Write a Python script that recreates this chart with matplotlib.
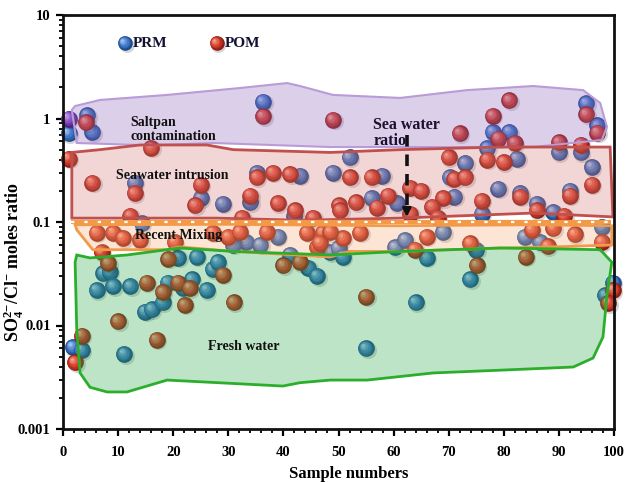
import matplotlib
matplotlib.use('Agg')
import matplotlib.pyplot as plt
import numpy as np
from matplotlib.transforms import offset_copy
from matplotlib.ticker import MultipleLocator, LogLocator, NullFormatter
from matplotlib.colors import to_rgb

plt.rcParams['font.family'] = ['Liberation Serif', 'DejaVu Serif']
plt.rcParams['font.weight'] = 'bold'
plt.rcParams['mathtext.fontset'] = 'custom'
plt.rcParams['mathtext.rm'] = 'Liberation Serif:bold'
plt.rcParams['mathtext.bf'] = 'Liberation Serif:bold'
plt.rcParams['mathtext.it'] = 'Liberation Serif:bold'

# ---------------- data ----------------
prm_x = [1.0, 4.4, 5.3, 36.3, 78, 81, 77, 95, 97, 90, 94,
         13, 25, 29, 35.2, 43, 49, 52, 57.9, 34, 42, 56, 60.6, 73, 82.4, 96,
         70.2, 79, 83, 92, 71, 76, 86, 89,
         14.3, 33.3, 39, 30.9, 35.8, 48.5, 50, 50.8, 60.3, 62.1, 66, 69, 75,
         83.8, 86.6, 97.8, 41.2, 20.9, 24.3,
         1.8, 3.4, 7.3, 8.5, 6.1, 9.1, 12.2, 11.1, 14.9, 16.1, 18.1, 19, 21.8,
         23.4, 26.1, 27.2, 28.1, 44.5, 46.1, 55, 64, 73.9, 99.8, 98.4]
prm_y = [0.72, 1.07, 0.74, 1.45, 0.74, 0.74, 0.52, 1.40, 0.86, 0.47, 0.47,
         0.24, 0.17, 0.15, 0.30, 0.28, 0.30, 0.42, 0.28, 0.155, 0.115, 0.17, 0.152, 0.37, 0.41, 0.34,
         0.27, 0.21, 0.19, 0.20, 0.175, 0.12, 0.15, 0.125,
         0.097, 0.064, 0.072, 0.060, 0.060, 0.051, 0.056, 0.046, 0.057, 0.067, 0.045, 0.080, 0.054,
         0.072, 0.064, 0.090, 0.048, 0.045, 0.046,
         0.0062, 0.0058, 0.032, 0.033, 0.022, 0.024, 0.024, 0.0053, 0.0136, 0.0143, 0.0167, 0.026, 0.023,
         0.028, 0.022, 0.035, 0.041, 0.036, 0.030, 0.0060, 0.0167, 0.028, 0.026, 0.0195]

pom_x = [4.2, 36.3, 49, 81, 78, 79, 82, 72, 95, 97, 90, 94,
         1.0, 16, 5.3, 13, 25, 24, 12.2, 35.2, 38.1, 41.2, 52.1, 56, 34, 39, 42.1, 50.1,
         53.2, 57, 59, 63, 65, 63, 32.5, 45.4, 70, 77, 80, 71, 73, 83, 92, 96, 69, 67,
         68, 76, 86, 91, 50.3,
         6.1, 9.1, 10.9, 14, 7, 20.3, 27.2, 30, 32.1, 37, 44.3, 47.2, 46.1, 46.6, 50.8,
         53.9, 63.9, 66, 73.9, 85.1, 88, 89, 92.9, 97.8, 48.5,
         2.2, 3.4, 8.2, 15.2, 10, 17, 18.1, 19.1, 20.9, 23, 22.1, 29, 31, 40, 43, 55,
         75.1, 84, 99.8, 99]
pom_y = [0.92, 1.05, 0.97, 1.5, 1.06, 0.64, 0.58, 0.72, 1.10, 0.73, 0.59, 0.56,
         0.41, 0.52, 0.24, 0.19, 0.23, 0.145, 0.115, 0.27, 0.30, 0.29, 0.27, 0.27, 0.18, 0.152, 0.13, 0.145,
         0.155, 0.138, 0.18, 0.215, 0.20, 0.12, 0.11, 0.11, 0.42, 0.40, 0.38, 0.26, 0.27, 0.175, 0.18, 0.23, 0.17, 0.14,
         0.11, 0.16, 0.13, 0.115, 0.13,
         0.079, 0.079, 0.070, 0.067, 0.051, 0.064, 0.079, 0.072, 0.080, 0.080, 0.079, 0.079, 0.057, 0.063, 0.070,
         0.079, 0.054, 0.072, 0.062, 0.084, 0.058, 0.087, 0.076, 0.064, 0.080,
         0.0044, 0.0080, 0.040, 0.026, 0.011, 0.0073, 0.021, 0.044, 0.026, 0.023, 0.0158, 0.031, 0.0167, 0.038, 0.041, 0.019,
         0.038, 0.046, 0.022, 0.0165]

mixed_x = [1.0]
mixed_y = [1.0]

# zone outlines (data coordinates)
salt_x = [2.2, 6.7, 18.9, 32.1, 40.7, 43, 49, 61.2, 73.3, 85.3, 94.4, 97.5, 98.7, 97.8, 85.3, 61.2, 48.5, 27.2, 15.8, 2.5, 1.6]
salt_y = [1.32, 1.51, 1.69, 1.97, 2.2, 2.06, 1.69, 1.58, 1.88, 2.06, 1.88, 1.41, 0.83, 0.62, 0.53, 0.53, 0.53, 0.58, 0.55, 0.58, 1.21]
sea_x = [1.6, 6.7, 14, 26.1, 30.9, 48.5, 61.2, 79.3, 99.3, 99.8, 85.3, 61.2, 43, 27.9, 1.6]
sea_y = [0.47, 0.50, 0.555, 0.555, 0.50, 0.47, 0.50, 0.53, 0.53, 0.112, 0.122, 0.109, 0.104, 0.109, 0.109]
mix_x = [2.2, 30, 60, 85, 99.6, 99.6, 91.5, 79.3, 61.2, 52.1, 48.5, 30.9, 21.2, 18.9, 5.4, 2.5]
mix_y = [0.094, 0.095, 0.092, 0.094, 0.092, 0.060, 0.058, 0.056, 0.052, 0.052, 0.046, 0.052, 0.0575, 0.054, 0.054, 0.084]
fresh_x = [2.5, 4.9, 11.6, 21.2, 30.9, 48.5, 61.2, 79.3, 97.5, 99.6, 98.7, 98, 96.2, 92.6, 79.3, 67.2, 55.2,
           48.5, 43, 39.9, 18.9, 11.6, 8, 4.9, 3.1, 2.5, 2.2]
fresh_y = [0.048, 0.045, 0.048, 0.0561, 0.052, 0.048, 0.052, 0.0561, 0.054, 0.0409, 0.0188, 0.00775, 0.00485,
           0.00397, 0.0037, 0.00348, 0.00297, 0.00297, 0.0028, 0.0026, 0.00297, 0.00228, 0.00228, 0.00253,
           0.00348, 0.0089, 0.0409]

xticks = [0, 10, 20, 30, 40, 50, 60, 70, 80, 90, 100]
yticks = [0.001, 0.01, 0.1, 1, 10]
ytick_labels = ['0.001', '0.01', '0.1', '1', '10']

# ---------------- figure ----------------
W, H = 626, 482
fig = plt.figure(figsize=(W / 100, H / 100), dpi=100)
ax = fig.add_axes([63 / W, 1 - 429 / H, 551 / W, 414 / H])
ax.set_yscale('log')
ax.set_xlim(0, 100)
ax.set_ylim(0.001, 10)


def lerp(c1, c2, t):
    a, b = np.array(to_rgb(c1)), np.array(to_rgb(c2))
    return tuple(a + (b - a) * t)


LAYERS = [(1.00, 0.0), (0.85, 0.5), (0.68, 1.0), (0.50, 1.5), (0.32, 1.9), (0.16, 2.3)]


def sphere(x, y, base, dark, light, size, trans_base, z):
    # soft shadow
    ax.scatter([x], [y], s=size * 1.05, color=(0, 0, 0, 0.16), linewidths=0,
               transform=offset_copy(trans_base, fig=fig, x=1.1, y=-1.1, units='points'),
               zorder=z, clip_on=False)
    n = len(LAYERS)
    for i, (f, d) in enumerate(LAYERS):
        t = i / (n - 1)
        if t < 0.4:
            col = lerp(dark, base, t / 0.4)
        else:
            col = lerp(base, light, (t - 0.4) / 0.6)
        ax.scatter([x], [y], s=size * f * f, color=col, linewidths=0,
                   transform=offset_copy(trans_base, fig=fig, x=-d, y=d, units='points'),
                   zorder=z + 0.001 * (i + 1), clip_on=False)


BLUE = ('#3f78c8', '#1d4a8c', '#a9c8f0')
RED = ('#d8402d', '#8f1f14', '#f4a493')
PURPLE = ('#8a52c4', '#4d2280', '#c9a8ec')
SZ = 145

z = 2.0
for xi, yi in zip(prm_x, prm_y):
    sphere(xi, yi, *BLUE, SZ, ax.transData, z)
    z += 0.01
for xi, yi in zip(pom_x, pom_y):
    sphere(xi, yi, *RED, SZ, ax.transData, z)
    z += 0.01
for xi, yi in zip(mixed_x, mixed_y):
    sphere(xi, yi, *PURPLE, SZ, ax.transData, z)
    z += 0.01

# zones overlaid (semi-transparent) on the spheres
ZT = 10
ax.fill(salt_x, salt_y, facecolor='#8e62b9', alpha=0.30, edgecolor='none', zorder=ZT)
ax.fill(salt_x, salt_y, facecolor='none', edgecolor='#b99bd8', lw=1.5, zorder=ZT + 1)
ax.fill(sea_x, sea_y, facecolor='#d47676', alpha=0.30, edgecolor='none', zorder=ZT)
ax.fill(sea_x, sea_y, facecolor='none', edgecolor='#c0504d', lw=2.0, zorder=ZT + 1)
ax.fill(mix_x, mix_y, facecolor='#f8ac76', alpha=0.30, edgecolor='none', zorder=ZT)
ax.fill(mix_x, mix_y, facecolor='none', edgecolor='#f29a48', lw=2.0, zorder=ZT + 1)
ax.fill(fresh_x, fresh_y, facecolor='#2aa848', alpha=0.30, edgecolor='none', zorder=ZT)
ax.fill(fresh_x, fresh_y, facecolor='none', edgecolor='#2bae2b', lw=2.0, zorder=ZT + 1)

# dashed boundary line near 0.1
ax.plot([1.5, 99.5], [0.1, 0.1], color='#f29a48', lw=3.0, zorder=ZT + 2, solid_capstyle='butt')
ax.plot([1.5, 99.5], [0.1, 0.1], color='white', lw=1.6, zorder=ZT + 3,
        linestyle=(0, (1.5, 4.5)))

# texts
tk = dict(fontsize=10, fontweight='bold', color='#111111', zorder=ZT + 5)
ax.text(12.2, 0.79, 'Saltpan\ncontamination', va='center', ha='left', linespacing=1.1, **tk)
ax.text(9.6, 0.284, 'Seawater intrusion', va='center', ha='left', **tk)
ax.text(13.1, 0.0733, 'Recent Mixing', va='center', ha='left', **tk)
ax.text(26.3, 0.0062, 'Fresh water', va='center', ha='left', **tk)
ax.text(56.3, 0.73, 'Sea water\nratio', va='center', ha='left', linespacing=1.0,
        fontsize=11.5, fontweight='bold', color='#1a1030', zorder=ZT + 5)

# dashed arrow
ax.plot([62.4, 62.4], [0.70, 0.13], color='#111111', lw=2.6, linestyle=(0, (3.2, 2.2)),
        zorder=ZT + 6)
ax.annotate('', xy=(62.4, 0.105), xytext=(62.4, 0.14),
            arrowprops=dict(arrowstyle='-|>', color='#111111', lw=2.0, mutation_scale=12),
            zorder=ZT + 6)

# legend (manual, sphere markers)
sphere(0.1125, 0.932, *BLUE, 110, ax.transAxes, 30)
ax.text(0.127, 0.930, 'PRM', transform=ax.transAxes, va='center', ha='left',
        fontsize=11, fontweight='bold', color='#111133', zorder=31)
sphere(0.279, 0.932, *RED, 110, ax.transAxes, 30)
ax.text(0.294, 0.930, 'POM', transform=ax.transAxes, va='center', ha='left',
        fontsize=11, fontweight='bold', color='#111133', zorder=31)

# axes styling
ax.set_xticks(xticks)
ax.set_xticklabels([str(v) for v in xticks])
ax.xaxis.set_minor_locator(MultipleLocator(2))
ax.set_yticks(yticks)
ax.set_yticklabels(ytick_labels)
ax.yaxis.set_minor_locator(LogLocator(base=10, subs=np.arange(2, 10)))
ax.yaxis.set_minor_formatter(NullFormatter())
ax.tick_params(axis='both', which='major', direction='out', length=5, width=1.6,
               labelsize=10.5)
ax.tick_params(axis='both', which='minor', direction='out', length=3, width=1.3)
ax.tick_params(axis='x', which='major', pad=7)
ax.tick_params(axis='y', which='major', pad=4)
for lab in ax.get_xticklabels() + ax.get_yticklabels():
    lab.set_fontweight('bold')
for s in ax.spines.values():
    s.set_linewidth(2.0)
    s.set_color('#111111')
    s.set_zorder(40)

fig.text(349 / W, 1 - 474 / H, 'Sample numbers', fontsize=12, fontweight='bold',
         ha='center', va='center')
fig.text(14 / W, 1 - 262 / H, r'SO$_4^{2\mathbf{-}}$/Cl$^{\mathbf{-}}$ moles ratio',
         fontsize=13, fontweight='bold', rotation=90, ha='center', va='center')

fig.savefig('out.png', dpi=100)
